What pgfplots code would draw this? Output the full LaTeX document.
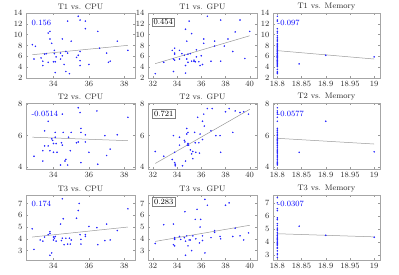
\documentclass[border=0pt]{standalone}
\usepackage{pgfplots}
\pgfplotsset{compat=1.18}
\pgfplotsset{
  every axis title shift=0pt,
  panel/.style={
    scale only axis, anchor=south west,
    axis line style={black!35, line width=0.4pt},
    every tick/.style={black!40, line width=0.4pt},
    major tick length=2pt,
    tick align=inside,
    ticklabel style={font=\fontsize{8}{9}\selectfont, text=black!85},
    every axis title/.style={font=\fontsize{8}{9}\selectfont, text=black!85, at={(0.5,1)}, anchor=south, inner sep=1pt, yshift=2pt},
  },
  c1/.style={panel, width=109pt, xmin=32.45, xmax=38.6, xtick={34,36,38}},
  c2/.style={panel, width=109pt, xmin=31.6, xmax=40.6, xtick={32,34,36,38,40}},
  c3/.style={panel, width=107pt, xmin=18.791, xmax=19.012, xtick={18.8,18.85,18.9,18.95,19}, xticklabels={18.8,18.85,18.9,18.95,19}},
  r1/.style={height=65pt, ymin=2, ymax=14, ytick={2,4,...,14}},
  r2/.style={height=66pt, ymin=3.9, ymax=8.05, ytick={4,6,8}},
  r3/.style={height=65pt, ymin=2.2, ymax=7.72, ytick={3,4,5,6,7}},
  pts/.style={only marks, mark=*, mark size=0.55pt, color=blue!85!white, mark options={draw=none, fill=blue!85!white}},
  fit/.style={no marks, black!40, line width=0.5pt},
}
\tikzset{
  rlab/.style={anchor=west, text=blue, inner sep=0pt, font=\fontsize{8}{9}\selectfont},
  blab/.style={anchor=north west, draw=black!50, fill=white, text=black, inner sep=1.5pt, line width=0.5pt, font=\fontsize{8}{9}\selectfont},
}
\begin{document}
\begin{tikzpicture}
\useasboundingbox (0pt,0pt) rectangle (399pt,275pt);
% ---------------- Row 1 ----------------
\begin{axis}[c1, r1, at={(26pt,197pt)}, title={T1 vs. CPU}]
\addplot[pts] coordinates {(32.81,8.15)(32.98,7.85)(32.9,5.5)(33.3,5.7)(33.4,5.1)(33.5,6.4)(33.4,4.3)(33.6,6.5)(33.7,10.3)(33.8,10.6)(33.8,9.2)(33.9,8.4)(33.7,4.9)(34.0,5.0)(34.1,5.0)(34.05,7.1)(34.05,6.5)(34.15,5.9)(34.1,3.0)(34.4,6.6)(34.5,9.2)(34.4,5.5)(34.5,6.1)(34.6,4.5)(34.7,6.9)(34.7,3.2)(34.8,6.6)(34.8,12.5)(34.9,2.8)(35.0,8.8)(35.3,5.8)(35.4,6.2)(35.4,13.4)(35.5,12.7)(35.5,6.9)(35.5,5.2)(35.5,4.3)(35.8,12.5)(35.8,11.1)(36.0,4.5)(36.5,10.6)(36.6,7.5)(37.0,6.6)(37.1,4.9)(37.2,5.1)(37.6,8.8)(38.2,7.1)};
\addplot[fit] coordinates {(32.81,6.3)(38.2,8.03)};
\node[rlab] at (rel axis cs:0.05,0.85) {0.156};
\end{axis}
\begin{axis}[c2, r1, at={(148pt,197pt)}, title={T1 vs. GPU}]
\addplot[pts] coordinates {(32.2,2.8)(32.9,4.9)(33.7,5.5)(33.6,7.1)(33.8,7.5)(33.8,6.6)(33.8,6.4)(33.8,5.3)(33.7,3.2)(34.2,7.1)(34.2,5.5)(34.4,6.5)(34.6,6.2)(34.7,11.0)(34.7,4.3)(34.7,2.9)(34.8,5.5)(34.8,8.8)(34.9,6.4)(35.0,12.5)(34.9,4.9)(35.1,6.5)(35.2,5.1)(35.2,10.2)(35.4,5.3)(35.4,5.1)(35.5,5.0)(35.6,5.9)(35.6,7.2)(35.8,5.0)(35.9,4.3)(36.0,6.1)(36.1,4.5)(36.2,9.2)(36.2,8.4)(36.5,13.4)(36.8,5.1)(37.1,8.8)(37.1,7.9)(37.6,12.7)(37.6,5.1)(37.9,7.9)(38.2,9.2)(38.6,6.9)(38.8,10.5)(39.2,12.7)(39.6,5.6)(40.0,10.6)};
\addplot[fit] coordinates {(32.2,4.65)(40.0,9.8)};
\node[blab] at (rel axis cs:0.035,0.93) {0.454};
\end{axis}
\begin{axis}[c3, r1, at={(273pt,197pt)}, title={T1 vs. Memory}]
\addplot[pts] coordinates {(18.8,8.15)(18.8,7.85)(18.8,5.5)(18.8,5.7)(18.8,5.1)(18.8,6.4)(18.8,4.3)(18.8,6.5)(18.8,10.3)(18.8,10.6)(18.8,9.2)(18.8,8.4)(18.8,4.9)(18.8,5.0)(18.8,7.1)(18.8,5.9)(18.8,3.0)(18.8,6.6)(18.8,9.5)(18.8,6.1)(18.8,6.9)(18.8,3.2)(18.8,12.5)(18.8,2.8)(18.8,8.8)(18.8,5.8)(18.8,6.2)(18.8,13.4)(18.8,12.7)(18.8,5.2)(18.8,11.1)(18.8,4.5)(18.8,7.5)(18.8,4.7)(18.8,8.0)(18.8,7.3)(18.8,9.0)(18.8,6.8)(18.8,5.3)(18.8,4.1)(18.8,3.6)(18.8,7.7)(18.8,9.8)(18.8,6.0)
(18.845,4.6)(18.9,6.2)(19.0,5.9)};
\addplot[fit] coordinates {(18.8,7.05)(19.0,5.5)};
\node[rlab] at (rel axis cs:0.04,0.85) {-0.097};
\end{axis}
% ---------------- Row 2 ----------------
\begin{axis}[c1, r2, at={(26pt,106pt)}, title={T2 vs. CPU}]
\addplot[pts] coordinates {(32.9,4.7)(33.4,4.4)(33.4,5.05)(33.5,5.35)(33.5,6.3)(33.7,6.9)(33.7,5.35)(33.8,5.05)(33.9,5.8)(33.95,5.7)(34.0,4.95)(34.0,5.5)(34.1,6.2)(34.1,5.9)(34.15,5.5)(34.2,4.95)(34.4,4.15)(34.45,5.55)(34.5,5.4)(34.5,7.35)(34.55,6.2)(34.65,4.4)(34.7,4.5)(34.8,4.15)(34.85,5.9)(34.95,5.05)(35.0,6.2)(35.3,5.55)(35.4,5.6)(35.4,7.75)(35.5,7.45)(35.55,6.45)(35.55,6.2)(35.55,4.3)(35.8,6.05)(35.8,5.6)(36.0,4.95)(36.45,7.55)(36.5,4.2)(36.9,6.0)(37.0,4.75)(37.2,5.15)(37.6,6.05)(38.2,7.15)};
\addplot[fit] coordinates {(32.81,5.9)(38.2,5.68)};
\node[rlab] at (rel axis cs:0.05,0.83) {-0.0514};
\end{axis}
\begin{axis}[c2, r2, at={(148pt,106pt)}, title={T2 vs. GPU}]
\addplot[pts] coordinates {(32.2,5.0)(32.9,4.7)(33.7,6.0)(33.8,4.95)(33.6,4.5)(33.8,4.3)(33.85,4.2)(33.85,4.1)(34.2,5.9)(34.2,5.4)(34.45,4.1)(34.6,5.7)(34.65,5.6)(34.7,4.4)(34.8,6.1)(34.8,6.45)(34.85,5.4)(34.9,6.2)(34.9,5.5)(34.95,5.4)(35.1,5.1)(35.2,4.85)(35.3,4.55)(35.3,5.0)(35.45,6.2)(35.5,5.55)(35.55,4.95)(35.7,7.15)(35.8,5.55)(35.85,4.9)(35.9,6.1)(36.1,5.75)(36.1,6.9)(36.2,7.35)(36.25,6.6)(36.5,7.7)(36.9,7.7)(36.8,6.3)(37.2,6.0)(37.55,6.0)(37.6,4.95)(38.0,7.5)(38.3,7.7)(38.6,6.2)(38.8,7.55)(39.2,7.45)(39.5,7.5)(39.9,7.35)};
\addplot[fit] coordinates {(32.2,4.25)(40.0,7.65)};
\node[blab] at (rel axis cs:0.04,0.91) {0.721};
\end{axis}
\begin{axis}[c3, r2, at={(273pt,106pt)}, title={T2 vs. Memory}]
\addplot[pts] coordinates {(18.8,4.7)(18.8,4.4)(18.8,5.05)(18.8,5.35)(18.8,6.3)(18.8,6.9)(18.8,5.8)(18.8,5.7)(18.8,4.95)(18.8,5.5)(18.8,6.2)(18.8,5.9)(18.8,4.15)(18.8,5.55)(18.8,5.4)(18.8,7.35)(18.8,4.5)(18.8,5.6)(18.8,7.75)(18.8,7.45)(18.8,6.45)(18.8,4.3)(18.8,6.05)(18.8,7.55)(18.8,4.2)(18.8,6.0)(18.8,4.75)(18.8,5.15)(18.8,7.15)(18.8,4.6)(18.8,4.85)(18.8,5.25)(18.8,6.1)(18.8,5.0)(18.8,4.25)(18.8,6.35)(18.8,5.75)
(18.845,4.95)(18.9,6.9)(19.0,4.98)};
\addplot[fit] coordinates {(18.8,5.83)(19.0,5.47)};
\node[rlab] at (rel axis cs:0.04,0.83) {-0.0577};
\end{axis}
% ---------------- Row 3 ----------------
\begin{axis}[c1, r3, at={(26pt,15pt)}, title={T3 vs. CPU}]
\addplot[pts] coordinates {(32.8,4.85)(32.9,3.1)(33.25,3.9)(33.4,3.8)(33.5,4.15)(33.7,4.35)(33.8,4.45)(33.8,4.6)(33.8,2.6)(33.9,2.8)(34.0,4.15)(34.0,3.9)(34.05,4.05)(34.1,4.2)(34.15,3.8)(34.4,5.25)(34.45,3.85)(34.5,4.05)(34.5,7.4)(34.55,5.7)(34.6,3.5)(34.7,4.05)(34.8,3.55)(34.9,4.05)(34.95,3.55)(35.0,3.9)(35.3,5.75)(35.4,6.4)(35.45,7.0)(35.5,4.35)(35.55,3.95)(35.55,3.55)(35.8,4.2)(35.8,4.35)(36.0,5.05)(36.45,4.95)(36.5,3.5)(36.9,3.85)(37.0,5.25)(37.2,3.9)(37.6,4.7)(38.2,6.55)};
\addplot[fit] coordinates {(32.8,4.15)(38.2,5.0)};
\node[rlab] at (rel axis cs:0.05,0.86) {0.174};
\end{axis}
\begin{axis}[c2, r3, at={(148pt,15pt)}, title={T3 vs. GPU}]
\addplot[pts] coordinates {(32.2,3.6)(32.9,5.2)(33.7,5.25)(33.8,4.0)(33.8,3.95)(33.7,3.5)(33.8,3.4)(33.8,4.1)(34.2,4.2)(34.3,3.95)(34.6,4.1)(34.65,6.3)(34.7,3.8)(34.7,2.6)(34.8,4.25)(34.9,3.4)(35.0,3.9)(35.1,3.9)(35.2,3.0)(35.3,4.25)(35.5,5.65)(35.55,4.0)(35.65,6.5)(35.85,3.65)(35.9,5.0)(35.95,5.65)(36.1,3.85)(36.1,4.25)(36.3,7.35)(36.3,2.8)(36.5,6.85)(36.8,4.1)(37.1,4.7)(37.1,4.55)(37.55,4.2)(37.6,4.0)(38.0,6.85)(38.3,7.05)(38.6,4.2)(38.8,4.9)(39.2,4.25)(39.5,3.9)(39.9,4.5)};
\addplot[fit] coordinates {(32.2,3.78)(40.0,5.15)};
\node[blab] at (rel axis cs:0.04,0.965) {0.283};
\end{axis}
\begin{axis}[c3, r3, ymin=2.6, ymax=7.6, at={(273pt,15pt)}, title={T3 vs. Memory}]
\addplot[pts] coordinates {(18.8,4.85)(18.8,3.1)(18.8,3.9)(18.8,3.8)(18.8,4.15)(18.8,4.35)(18.8,4.45)(18.8,4.6)(18.8,2.8)(18.8,4.05)(18.8,4.2)(18.8,5.25)(18.8,3.85)(18.8,7.4)(18.8,5.7)(18.8,3.5)(18.8,3.55)(18.8,5.75)(18.8,6.4)(18.8,7.0)(18.8,3.95)(18.8,5.05)(18.8,4.95)(18.8,4.7)(18.8,6.55)(18.8,3.0)(18.8,3.3)(18.8,3.7)(18.8,4.5)(18.8,5.4)(18.8,5.85)(18.8,4.25)
(18.845,5.2)(18.9,4.5)(19.0,4.35)};
\addplot[fit] coordinates {(18.8,4.62)(19.0,4.38)};
\node[rlab] at (rel axis cs:0.04,0.86) {-0.0307};
\end{axis}
\end{tikzpicture}
\end{document}
